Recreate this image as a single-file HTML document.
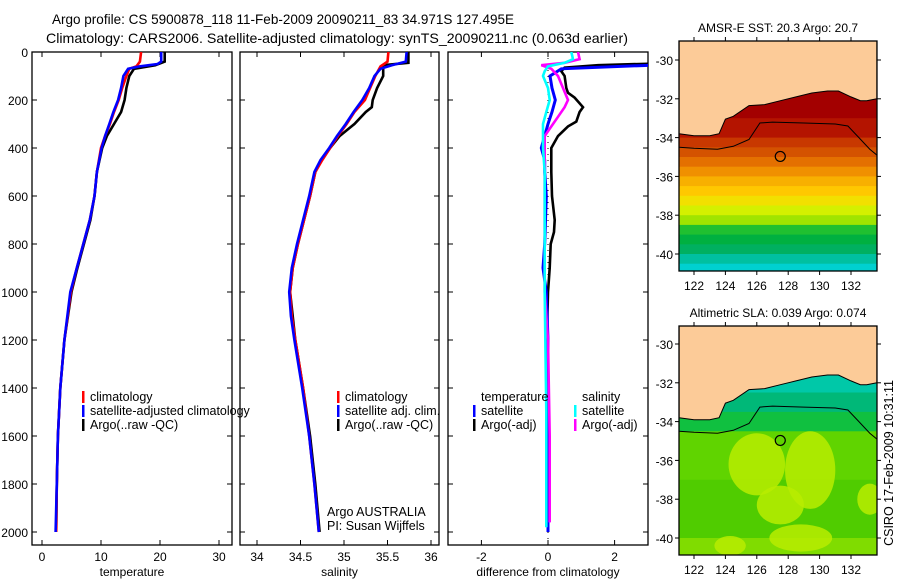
<!DOCTYPE html>
<html><head><meta charset="utf-8"><style>
body{margin:0;background:#fff;}
svg{display:block;font-family:"Liberation Sans",sans-serif;}
text{fill:#000;}
</style></head><body>
<svg id="c" width="900" height="580" viewBox="0 0 900 580">
<defs>
<clipPath id="cp1"><rect x="32" y="52" width="200" height="493"/></clipPath>
<clipPath id="cp2"><rect x="240" y="52" width="199" height="493"/></clipPath>
<clipPath id="cp3"><rect x="448" y="52" width="200" height="493"/></clipPath>
<clipPath id="cm1"><rect x="679" y="41" width="198" height="230"/></clipPath>
<clipPath id="cm2"><rect x="679" y="326" width="198" height="229"/></clipPath>
</defs>
<text x="52" y="24" font-size="14" textLength="462" lengthAdjust="spacingAndGlyphs">Argo profile: CS 5900878_118 11-Feb-2009 20090211_83 34.971S 127.495E</text>
<text x="46" y="43" font-size="14" textLength="582" lengthAdjust="spacingAndGlyphs">Climatology: CARS2006. Satellite-adjusted climatology: synTS_20090211.nc (0.063d earlier)</text>
<g id="g"></g>
</svg>
<script>
// ---- data ----
const tClimDepth=[0,40,60,70,100,150,200,250,300,350,400,500,600,700,800,900,1000,1200,1400,1600,1800,2000];
const tClim=[16.8,16.6,16.0,14.8,14.3,13.6,13.0,12.2,11.5,10.7,10.0,9.3,8.9,8.1,7.0,5.9,4.9,3.8,3.1,2.7,2.5,2.4];
const tSatDepth=[0,40,50,60,70,100,150,200,250,300,350,400,500,600,700,800,900,1000,1200,1400,1600,1800,2000];
const tSat=[20.2,20.2,19.6,16.5,14.6,13.8,13.4,12.9,12.1,11.4,10.7,10.1,9.3,8.9,8.1,7.0,5.9,4.8,3.8,3.1,2.7,2.5,2.3];
const tArgoDepth=[0,40,55,70,100,150,200,250,300,350,400,500,600,700,800,900,1000,1200,1400,1600,1800,2000];
const tArgo=[20.8,20.8,19.2,15.6,14.8,14.3,14.0,13.4,12.2,11.0,10.2,9.3,8.9,8.2,7.1,6.0,5.0,3.8,3.1,2.7,2.5,2.4];
const sClimDepth=[0,40,60,100,150,200,250,300,350,400,450,500,600,700,800,900,1000,1100,1200,1400,1600,1800,2000];
const sClim=[35.51,35.50,35.42,35.36,35.30,35.24,35.12,35.03,34.93,34.84,34.75,34.67,34.61,34.54,34.47,34.41,34.38,34.40,34.44,34.53,34.60,34.66,34.71];
const sSatDepth=[0,40,55,70,100,150,200,250,300,350,400,450,500,600,700,800,900,1000,1100,1200,1400,1600,1800,2000];
const sSat=[35.72,35.71,35.55,35.42,35.35,35.29,35.21,35.11,35.02,34.92,34.83,34.73,34.66,34.60,34.53,34.46,34.40,34.37,34.39,34.43,34.52,34.60,34.66,34.71];
const sArgoDepth=[0,45,55,70,100,150,200,230,250,300,350,400,450,500,600,700,800,900,1000,1200,1400,1600,1800,2000];
const sArgo=[35.74,35.74,35.45,35.45,35.45,35.38,35.33,35.32,35.25,35.12,34.95,34.84,34.74,34.67,34.61,34.54,34.47,34.41,34.38,34.44,34.53,34.61,34.67,34.72];
const dTSatDepth=[0,45,55,70,100,150,200,250,300,400,450,500,600,800,900,1000,1200,1600,2000];
const dTSat=[4.0,4.0,3.1,0.4,0.06,0.12,0.22,0.12,0.0,-0.2,-0.1,-0.1,-0.05,-0.1,-0.15,-0.05,0,0,0];
const dTArgoDepth=[0,45,55,65,80,100,150,170,190,230,250,290,310,350,400,500,600,700,750,800,900,1000,1300,1950];
const dTArgo=[4.0,4.0,1.5,0.5,0.4,0.5,0.55,0.6,0.8,1.05,0.95,0.85,0.6,0.3,0.1,0.1,0.12,0.2,0.18,0.08,0.05,0,-0.05,-0.05];
const dSSatDepth=[0,30,45,60,80,100,150,200,250,300,400,500,1000,1500,1980];
const dSSat=[0.7,0.75,0.5,0.0,-0.1,-0.15,0,0.05,-0.05,-0.15,-0.15,-0.1,-0.1,-0.05,-0.05];
const dSArgoDepth=[0,30,45,55,70,100,150,200,230,270,300,350,400,500,600,900,1000,1200,1600,1960];
const dSArgo=[0.9,0.95,0.5,-0.2,0.1,0.3,0.45,0.6,0.5,0.3,0.15,-0.1,-0.1,-0.1,-0.1,-0.1,-0.1,0,0.05,0.05];
const depthTicks=[0,200,400,600,800,1000,1200,1400,1600,1800,2000];
const tTicks=[0,10,20,30];
const sTicks=[34,34.5,35,35.5,36];
const dTicks=[-2,0,2];
const lonTicks=[122,124,126,128,130,132];
const latTicks=[-30,-32,-34,-36,-38,-40];
const coastLon=[121.05,122,123,123.6,124,124.5,125.5,126.5,127.5,128.5,129.5,130.5,131.2,132,132.6,133,133.65];
const coastLat=[-33.8,-33.9,-33.9,-33.8,-33.05,-32.9,-32.35,-32.3,-32.1,-31.9,-31.7,-31.6,-31.6,-31.9,-32.1,-32.1,-32.0];
const isoLon=[121.05,122,123.5,124.5,125.5,126.2,127,129,131,131.8,132.5,133.2,133.65];
const isoLat=[-34.5,-34.55,-34.6,-34.45,-34.1,-33.25,-33.2,-33.25,-33.3,-33.4,-34.0,-34.6,-34.9];
const sstBandTop=[-31.5,-33,-34,-34.5,-35,-35.5,-36,-36.5,-37,-37.5,-38,-38.5,-39,-39.5,-40,-40.5];
const sstBandColor=["#a30000","#b41400","#c83800","#d45200","#e47000","#f09000","#f8b000","#ffc800","#f2e000","#d4f000","#a0e400","#20c030","#00b040","#00b060","#00c0a0","#00d0d0"];
const slaBandTop=[-31.5,-32.5,-33.5,-34.5,-37,-39,-40];
const slaBandColor=["#00c8a8","#00b878","#10c040","#60d400","#50cc00","#50cc00","#80dc00"];
const floatLon=127.495, floatLat=-34.971;

// ---- scales ----
const Y=d=>52+0.24*d, TX=t=>42+5.9*t, SX=s=>257+87*(s-34), DX=v=>548+33.3*v;
const LX=l=>694+15.7*(l-122), LY1=a=>60+19.4*(-30-a), LY2=a=>344+19.4*(-30-a);
const g=document.getElementById('g'), NS='http://www.w3.org/2000/svg';
function mk(tag,at,parent){const e=document.createElementNS(NS,tag);for(const k in at)e.setAttribute(k,at[k]);(parent||g).appendChild(e);return e;}
function txt(x,y,s,sz,anc,parent){const e=mk('text',{x:x,y:y,'font-size':sz,'text-anchor':anc||'start'},parent);e.textContent=s;return e;}
function line(xs,ds,fx,color,clip,name,w){
  const pts=xs.map((v,i)=>fx(v).toFixed(1)+','+Y(ds[i]).toFixed(1)).join(' ');
  const e=mk('polyline',{points:pts,fill:'none',stroke:color,'stroke-width':w||2.6,'clip-path':'url(#'+clip+')'});
  
  
}
function panel(x0,x1,xt,fx,lab,title,name){
  const f=mk('rect',{x:x0,y:52,width:x1-x0,height:493,fill:'none',stroke:'#000','stroke-width':1.3});
  
  
  depthTicks.forEach(d=>{mk('line',{x1:x0,x2:x0+5,y1:Y(d),y2:Y(d),stroke:'#000'});mk('line',{x1:x1-5,x2:x1,y1:Y(d),y2:Y(d),stroke:'#000'});});
  xt.forEach(v=>{const x=fx(v);mk('line',{x1:x,x2:x,y1:52,y2:57,stroke:'#000'});mk('line',{x1:x,x2:x,y1:540,y2:545,stroke:'#000'});
    const t=txt(x,561,lab(v),12,'middle');});
  const t=txt((x0+x1)/2,576,title,12,'middle');
}
depthTicks.forEach(d=>{const t=txt(28,Y(d)+5,String(d),12,'end');});
panel(32,232,tTicks,TX,v=>String(v),'temperature','temperature-panel');
panel(240,439,sTicks,SX,v=>String(v),'salinity','salinity-panel');
panel(448,648,dTicks,DX,v=>String(v),'difference from climatology','difference-panel');
mk('line',{x1:DX(0),x2:DX(0),y1:52,y2:545,stroke:'#000','stroke-dasharray':'1,5'});
line(tArgo,tArgoDepth,TX,'#000','cp1','temperature-argo-line');
line(tClim,tClimDepth,TX,'#f00','cp1','temperature-climatology-line');
line(tSat,tSatDepth,TX,'#00f','cp1','temperature-satellite-line');
line(sArgo,sArgoDepth,SX,'#000','cp2','salinity-argo-line');
line(sClim,sClimDepth,SX,'#f00','cp2','salinity-climatology-line');
line(sSat,sSatDepth,SX,'#00f','cp2','salinity-satellite-line');
line(dTArgo,dTArgoDepth,DX,'#000','cp3','temp-diff-argo-line');
line(dTSat,dTSatDepth,DX,'#00f','cp3','temp-diff-satellite-line',3);
line(dSArgo,dSArgoDepth,DX,'#f0f','cp3','sal-diff-argo-line');
line(dSSat,dSSatDepth,DX,'#0ff','cp3','sal-diff-satellite-line');
function leg(x,y,c,s,name){if(c)mk('rect',{x:x,y:y-10,width:2.5,height:12,fill:c});const t=txt(x+8,y,s,12.5);}
leg(82,401,'#f00','climatology','legend-climatology');
leg(82,415,'#00f','satellite-adjusted climatology','legend-satellite-adjusted');
leg(82,429,'#000','Argo(..raw -QC)','legend-argo');
leg(337,401,'#f00','climatology','legend-sal-climatology');
leg(337,415,'#00f','satellite adj. clim.','legend-sal-satellite');
leg(337,429,'#000','Argo(..raw -QC)','legend-sal-argo');
leg(473,401,null,'temperature','legend-diff-temperature');
leg(473,415,'#00f','satellite','legend-diff-temp-satellite');
leg(473,429,'#000','Argo(-adj)','legend-diff-temp-argo');
leg(574,401,null,'salinity','legend-diff-salinity');
leg(574,415,'#0ff','satellite','legend-diff-sal-satellite');
leg(574,429,'#f0f','Argo(-adj)','legend-diff-sal-argo');
let t1=txt(327,516,'Argo AUSTRALIA',12.5);
let t2=txt(327,530,'PI: Susan Wijffels',12.5);
function map(LY,clip,bandTop,bandColor,y0,h,title,name,blobs){
  bandTop.forEach((lt,i)=>{const r=mk('rect',{x:679,y:LY(lt),width:198,height:LY(lt-(i<bandTop.length-1?lt-bandTop[i+1]:1))-LY(lt)+0.5,fill:bandColor[i],'clip-path':'url(#'+clip+')'});
    });
  if(blobs)blobs.forEach(b=>mk('ellipse',{cx:LX(b[0]),cy:LY(b[1]),rx:b[2]*15.7,ry:b[3]*19.4,fill:'#b8ec00',opacity:0.85,'clip-path':'url(#'+clip+')'}));
  let p='M'+LX(121.05)+','+(y0-2)+' L'+coastLon.map((l,i)=>LX(l).toFixed(1)+','+LY(coastLat[i]).toFixed(1)).join(' L')+' L'+LX(133.65)+','+(y0-2)+'Z';
  const land=mk('path',{d:p,fill:'#fccb98',stroke:'#000','stroke-width':1,'clip-path':'url(#'+clip+')'});
  
  mk('polyline',{points:isoLon.map((l,i)=>LX(l).toFixed(1)+','+LY(isoLat[i]).toFixed(1)).join(' '),fill:'none',stroke:'#000','stroke-width':1,'clip-path':'url(#'+clip+')'});
  const c=mk('circle',{cx:LX(floatLon),cy:LY(floatLat),r:5,fill:'none',stroke:'#000','stroke-width':1.2});
  
  mk('rect',{x:679,y:y0,width:198,height:h,fill:'none',stroke:'#000','stroke-width':1.3});
  latTicks.forEach(a=>{mk('line',{x1:679,x2:675,y1:LY(a),y2:LY(a),stroke:'#000'});mk('line',{x1:877,x2:881,y1:LY(a),y2:LY(a),stroke:'#000'});
    const t=txt(673,LY(a)+5,String(a),12,'end');});
  lonTicks.forEach(l=>{mk('line',{x1:LX(l),x2:LX(l),y1:y0,y2:y0-4,stroke:'#000'});mk('line',{x1:LX(l),x2:LX(l),y1:y0+h,y2:y0+h+4,stroke:'#000'});
    const t=txt(LX(l),y0+h+19,String(l),12,'middle');});
  const tt=txt(778,y0-9,title,12,'middle');
}
map(LY1,'cm1',sstBandTop,sstBandColor,41,230,'AMSR-E SST: 20.3 Argo: 20.7','sst-map');
map(LY2,'cm2',slaBandTop,slaBandColor,326,229,'Altimetric SLA: 0.039 Argo: 0.074','sla-map',
  [[126,-36.2,1.8,1.6],[129.4,-36.5,1.6,2.0],[127.5,-38.3,1.5,1.0],[128.8,-40.0,2.0,0.7],[133.2,-38.0,0.8,0.8],[124.3,-40.4,1.0,0.5]]);
const st=mk('text',{x:0,y:0,'font-size':12.5,'text-anchor':'middle',transform:'translate(893,463) rotate(-90)'});
st.textContent='CSIRO 17-Feb-2009 10:31:11';


</script>
</body></html>
